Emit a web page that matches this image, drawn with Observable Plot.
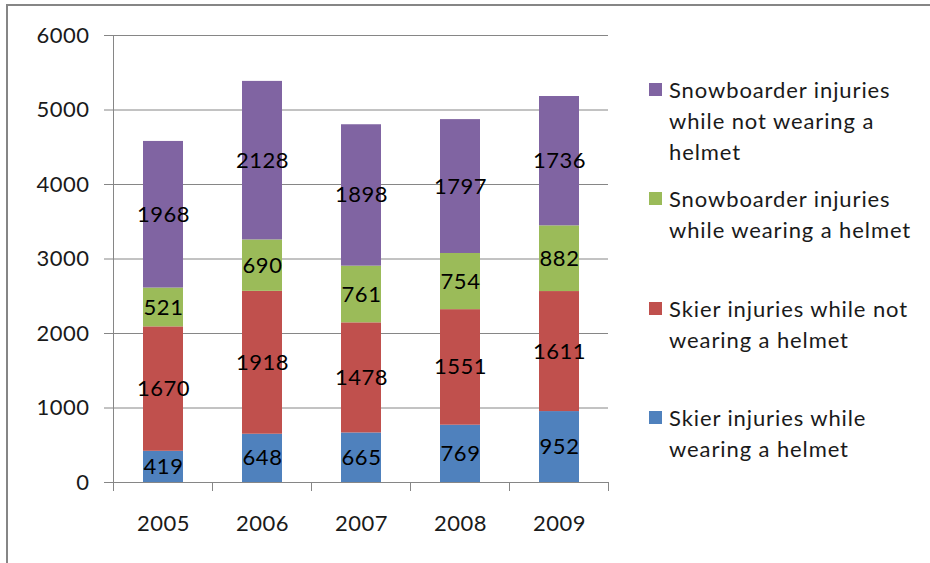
<!DOCTYPE html>
<html><head><meta charset="utf-8">
<script src="https://cdn.jsdelivr.net/npm/d3@7"></script>
<script src="https://cdn.jsdelivr.net/npm/@observablehq/plot@0.6"></script>
<style>
body{margin:0;background:#fff;font-family:Lato,sans-serif;}
#wrap{position:relative;width:930px;height:563px;overflow:hidden;background:#fff;}
#border{position:absolute;left:6px;top:4px;width:1000px;height:700px;border-top:2px solid #868686;border-left:2px solid #868686;pointer-events:none;}
#chart{position:absolute;left:0;top:0;}
#chart svg text{letter-spacing:0.5px;}
.item{position:absolute;left:649px;font-size:22px;line-height:31px;color:#1a1a1a;white-space:nowrap;letter-spacing:0.9px;}
.sw{position:absolute;left:0;top:9px;width:13px;height:13px;}
.lbl{position:absolute;left:20px;top:0;}
</style>
</head><body>
<div id="wrap"><div id="chart"></div><div id="border"></div></div>
<script>
const years = ["2005", "2006", "2007", "2008", "2009"];
const series = [
  "Skier injuries while wearing a helmet",
  "Skier injuries while not wearing a helmet",
  "Snowboarder injuries while wearing a helmet",
  "Snowboarder injuries while not wearing a helmet"
];
const skierHelmet = [419, 648, 665, 769, 952];
const skierNoHelmet = [1670, 1918, 1478, 1551, 1611];
const boarderHelmet = [521, 690, 761, 754, 882];
const boarderNoHelmet = [1968, 2128, 1898, 1797, 1736];
const yTicks = [0, 1000, 2000, 3000, 4000, 5000, 6000];
const colors = ["#4F81BD", "#C0504D", "#9BBB59", "#8064A2"];
const legendLines = [
  ["Skier injuries while", "wearing a helmet"],
  ["Skier injuries while not", "wearing a helmet"],
  ["Snowboarder injuries", "while wearing a helmet"],
  ["Snowboarder injuries", "while not wearing a", "helmet"]
];

const values = [skierHelmet, skierNoHelmet, boarderHelmet, boarderNoHelmet];
const rows = series.flatMap((s, i) => years.map((yr, j) => ({year: yr, series: s, value: values[i][j]})));

const font = "Lato, sans-serif";
const plot = Plot.plot({
  width: 930, height: 563,
  marginLeft: 113, marginRight: 322, marginTop: 35, marginBottom: 81,
  style: {fontFamily: font, fontSize: "22px", color: "#1a1a1a", background: "transparent"},
  x: {domain: years, paddingInner: 0.6, paddingOuter: 0.3, label: null},
  y: {domain: [0, 6000], label: null},
  color: {domain: series, range: colors},
  marks: [
    Plot.gridY(yTicks, {stroke: "#868686", strokeOpacity: 1}),
    Plot.barY(rows, {x: "year", y: "value", z: "series", fill: "series"}),
    Plot.text(rows, Plot.stackY({x: "year", y: "value", z: "series", text: d => String(d.value), fill: "#000", fontSize: 22})),
    Plot.frame({anchor: "left", stroke: "#868686"}),
    Plot.ruleY([0], {stroke: "#868686"}),
    Plot.axisY(yTicks, {tickSize: 9, tickPadding: 15, tickFormat: d => String(d), stroke: "#868686", fill: "#1a1a1a", fontSize: 22, label: null}),
    Plot.axisX({tickSize: 0, tickPadding: 33, fill: "#1a1a1a", fontSize: 22, label: null})
  ]
});
document.getElementById("chart").appendChild(plot);

// category boundary ticks below the x axis, positioned via Plot's x scale
const xs = plot.scale("x"), ys = plot.scale("y");
const y0 = ys.apply(0);
const bounds = years.map(d => xs.apply(d) + xs.bandwidth / 2 - xs.step / 2);
bounds.push(bounds[bounds.length - 1] + xs.step);
d3.select(plot).append("g").selectAll("line").data(bounds).join("line")
  .attr("x1", d => d).attr("x2", d => d).attr("y1", y0).attr("y2", y0 + 9)
  .attr("stroke", "#868686");

// legend (top entry = top of stack)
const legendTops = [402, 293, 183, 74];
const wrap = document.getElementById("wrap");
series.forEach((s, i) => {
  const it = document.createElement("div");
  it.className = "item";
  it.style.top = legendTops[i] + "px";
  it.innerHTML = `<div class="sw" style="background:${colors[i]}"></div><div class="lbl">${legendLines[i].join("<br>")}</div>`;
  wrap.appendChild(it);
});
</script>
</body></html>
